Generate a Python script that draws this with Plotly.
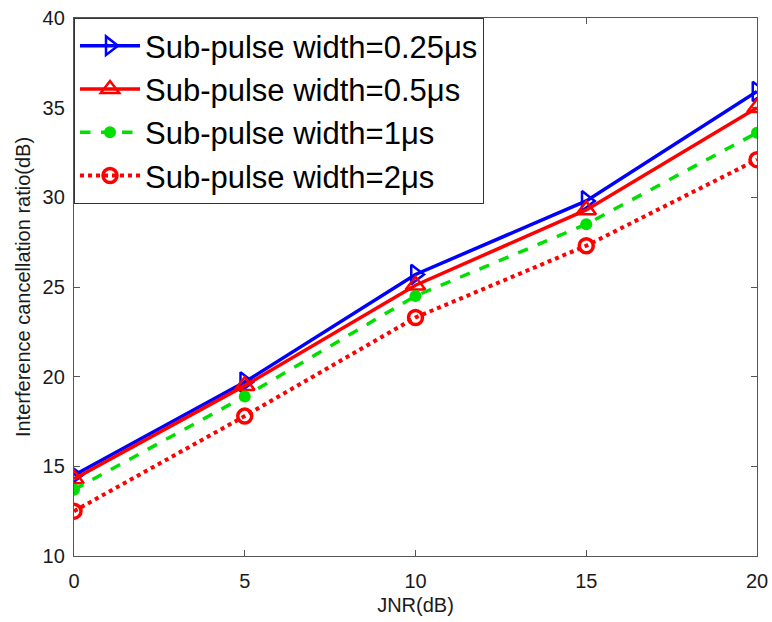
import plotly.graph_objects as go

jnr = [0, 5, 10, 15, 20]
w025 = [14.5, 19.7, 25.7, 29.8, 35.9]
w05 = [14.3, 19.5, 25.1, 29.3, 35.0]
w1 = [13.7, 18.9, 24.5, 28.5, 33.6]
w2 = [12.5, 17.8, 23.3, 27.3, 32.1]
names = ["Sub-pulse width=0.25μs", "Sub-pulse width=0.5μs",
         "Sub-pulse width=1μs", "Sub-pulse width=2μs"]
xticks = [0, 5, 10, 15, 20]
yticks = [10, 15, 20, 25, 30, 35, 40]

FONT = "Liberation Sans, Arial"

fig = go.Figure()
fig.add_trace(go.Scatter(x=jnr, y=w025, name=names[0], mode="lines+markers",
                         line=dict(color="#0000FF", width=3.5),
                         marker=dict(symbol="triangle-right-open", size=17, color="#0000FF",
                                     line=dict(width=2.5, color="#0000FF"))))
fig.add_trace(go.Scatter(x=jnr, y=w05, name=names[1], mode="lines+markers",
                         line=dict(color="#FF0000", width=3.5),
                         marker=dict(symbol="triangle-up-open", size=17, color="#FF0000",
                                     line=dict(width=2.5, color="#FF0000"))))
fig.add_trace(go.Scatter(x=jnr, y=w1, name=names[2], mode="lines+markers",
                         line=dict(color="#00E000", width=3.5, dash="dash"),
                         marker=dict(symbol="circle", size=12, color="#00E000")))
fig.add_trace(go.Scatter(x=jnr, y=w2, name=names[3], mode="lines+markers",
                         line=dict(color="#FF0000", width=4, dash="dot"),
                         marker=dict(symbol="circle-open", size=14, color="#FF0000",
                                     line=dict(width=3.5, color="#FF0000"))))

axis_common = dict(showline=True, linecolor="#555555", linewidth=1.3, mirror="allticks",
                   ticks="inside", ticklen=6, tickcolor="#555555", showgrid=False,
                   zeroline=False, automargin=False,
                   tickfont=dict(family=FONT, size=20, color="#1a1a1a"))

fig.update_xaxes(range=[0, 20], tickvals=xticks, ticklabelstandoff=7,
                 title=dict(text="JNR(dB)", font=dict(family=FONT, size=20, color="#1a1a1a"),
                            standoff=6),
                 **axis_common)
fig.update_yaxes(range=[10, 40], tickvals=yticks, ticklabelstandoff=4,
                 title=dict(text="Interference cancellation ratio(dB)",
                            font=dict(family=FONT, size=20, color="#1a1a1a"), standoff=6),
                 **axis_common)

fig.update_layout(
    width=772, height=622,
    margin=dict(l=74, r=15, t=18, b=66, autoexpand=False),
    plot_bgcolor="white", paper_bgcolor="white",
    legend=dict(x=0, y=1, xanchor="left", yanchor="top",
                bgcolor="white", bordercolor="#333333", borderwidth=1,
                font=dict(family=FONT, size=31, color="#000000"),
                itemwidth=60, tracegroupgap=0),
    showlegend=True,
)

fig.write_html("out.html")
